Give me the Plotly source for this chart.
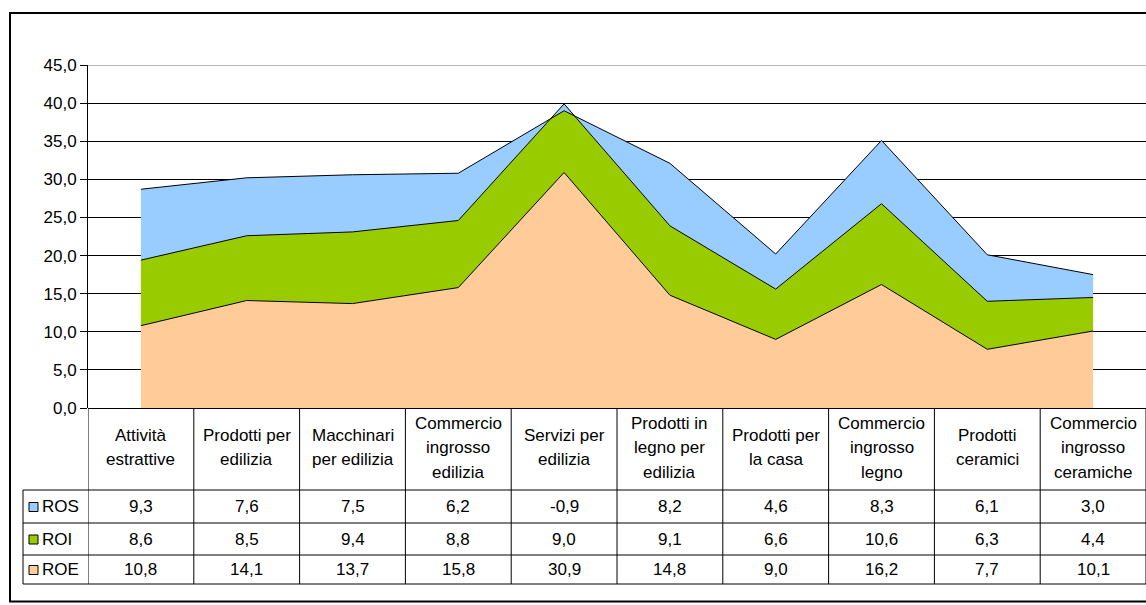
import plotly.graph_objects as go

# Sectors (line breaks as shown in the data table header)
categories = [
    "Attività\nestrattive",
    "Prodotti per\nedilizia",
    "Macchinari\nper edilizia",
    "Commercio\ningrosso\nedilizia",
    "Servizi per\nedilizia",
    "Prodotti in\nlegno per\nedilizia",
    "Prodotti per\nla casa",
    "Commercio\ningrosso\nlegno",
    "Prodotti\nceramici",
    "Commercio\ningrosso\nceramiche",
]

ros = [9.3, 7.6, 7.5, 6.2, -0.9, 8.2, 4.6, 8.3, 6.1, 3.0]
roi = [8.6, 8.5, 9.4, 8.8, 9.0, 9.1, 6.6, 10.6, 6.3, 4.4]
roe = [10.8, 14.1, 13.7, 15.8, 30.9, 14.8, 9.0, 16.2, 7.7, 10.1]

series_names = ["ROS", "ROI", "ROE"]
series_values = [ros, roi, roe]
series_colors = {"ROS": "#99CCFF", "ROI": "#99CC00", "ROE": "#FFCC99"}

FONT = "Liberation Sans, Arial, sans-serif"
FS = 17
W, H = 1146, 605
L, R, T, B = 88, 1146, 65, 408


def px_x(px):
    return (px - L) / (R - L)


def px_y(py):
    return (B - py) / (B - T)


def fmt(v):
    return f"{v:.1f}".replace(".", ",")


x = list(range(len(categories)))

fig = go.Figure()
# stacked areas: ROE at the bottom, then ROI, then ROS
for name, vals in [("ROE", roe), ("ROI", roi), ("ROS", ros)]:
    fig.add_trace(go.Scatter(
        x=x, y=vals, name=name, mode="lines", stackgroup="one",
        line=dict(color="black", width=1),
        fillcolor=series_colors[name],
        hoverinfo="skip",
    ))

shapes = []
annotations = []

# outer frame
shapes.append(dict(type="rect", xref="paper", yref="paper",
                   x0=px_x(10), x1=px_x(1152), y0=px_y(601.5), y1=px_y(13),
                   line=dict(color="black", width=2), fillcolor="rgba(0,0,0,0)",
                   layer="above"))

# top border of the plot area
shapes.append(dict(type="line", xref="paper", yref="y", x0=0, x1=1, y0=45, y1=45,
                   line=dict(color="#707070", width=1), layer="above"))

# data table grid
row_lines = [490, 523, 555, 584]
for k in range(len(categories) + 1):
    shapes.append(dict(type="line", xref="x", yref="paper",
                       x0=k - 0.5, x1=k - 0.5, y0=px_y(408), y1=px_y(584),
                       line=dict(color="black", width=1)))
for py in row_lines:
    shapes.append(dict(type="line", xref="paper", yref="paper",
                       x0=px_x(23), x1=px_x(1152), y0=px_y(py), y1=px_y(py),
                       line=dict(color="black", width=1)))
shapes.append(dict(type="line", xref="paper", yref="paper",
                   x0=px_x(23), x1=px_x(23), y0=px_y(490), y1=px_y(584),
                   line=dict(color="black", width=1)))

# category header text
for i, cat in enumerate(categories):
    lines = cat.split("\n")
    n = len(lines)
    for j, ln in enumerate(lines):
        cy = 447.5 + (j - (n - 1) / 2) * 24.5
        annotations.append(dict(x=i, xref="x", y=px_y(cy), yref="paper",
                                text=ln, showarrow=False,
                                xanchor="center", yanchor="middle",
                                font=dict(family=FONT, size=FS, color="black")))

# table rows: legend key, label and values
row_centers = [(row_lines[r] + row_lines[r + 1]) / 2 for r in range(3)]
for r, (name, vals) in enumerate(zip(series_names, series_values)):
    cy = row_centers[r]
    shapes.append(dict(type="rect", xref="paper", yref="paper",
                       x0=px_x(29), x1=px_x(38), y0=px_y(cy + 5), y1=px_y(cy - 4),
                       line=dict(color="black", width=1),
                       fillcolor=series_colors[name]))
    annotations.append(dict(x=px_x(40), xref="paper", y=px_y(cy), yref="paper",
                            text=name, showarrow=False,
                            xanchor="left", yanchor="middle",
                            font=dict(family=FONT, size=FS, color="black")))
    for i, v in enumerate(vals):
        annotations.append(dict(x=i, xref="x", y=px_y(cy), yref="paper",
                                text=fmt(v), showarrow=False,
                                xanchor="center", yanchor="middle",
                                font=dict(family=FONT, size=FS, color="black")))

fig.update_layout(
    width=W, height=H,
    margin=dict(l=L, r=W - R, t=T, b=H - B, pad=0),
    paper_bgcolor="white", plot_bgcolor="white",
    separators=",.",
    showlegend=False,
    font=dict(family=FONT, size=FS, color="black"),
    shapes=shapes,
    annotations=annotations,
)
fig.update_xaxes(range=[-0.5, len(categories) - 0.5], showticklabels=False,
                 showgrid=False, zeroline=False, showline=False, ticks="")
fig.update_yaxes(range=[0, 45], dtick=5, tickformat=".1f",
                 showgrid=True, gridcolor="black", gridwidth=1,
                 zeroline=True, zerolinecolor="black", zerolinewidth=1,
                 showline=True, linecolor="black", linewidth=1,
                 ticks="outside", ticklen=7, tickcolor="black",
                 tickfont=dict(family=FONT, size=FS, color="black"))

fig.write_html("out.html")
